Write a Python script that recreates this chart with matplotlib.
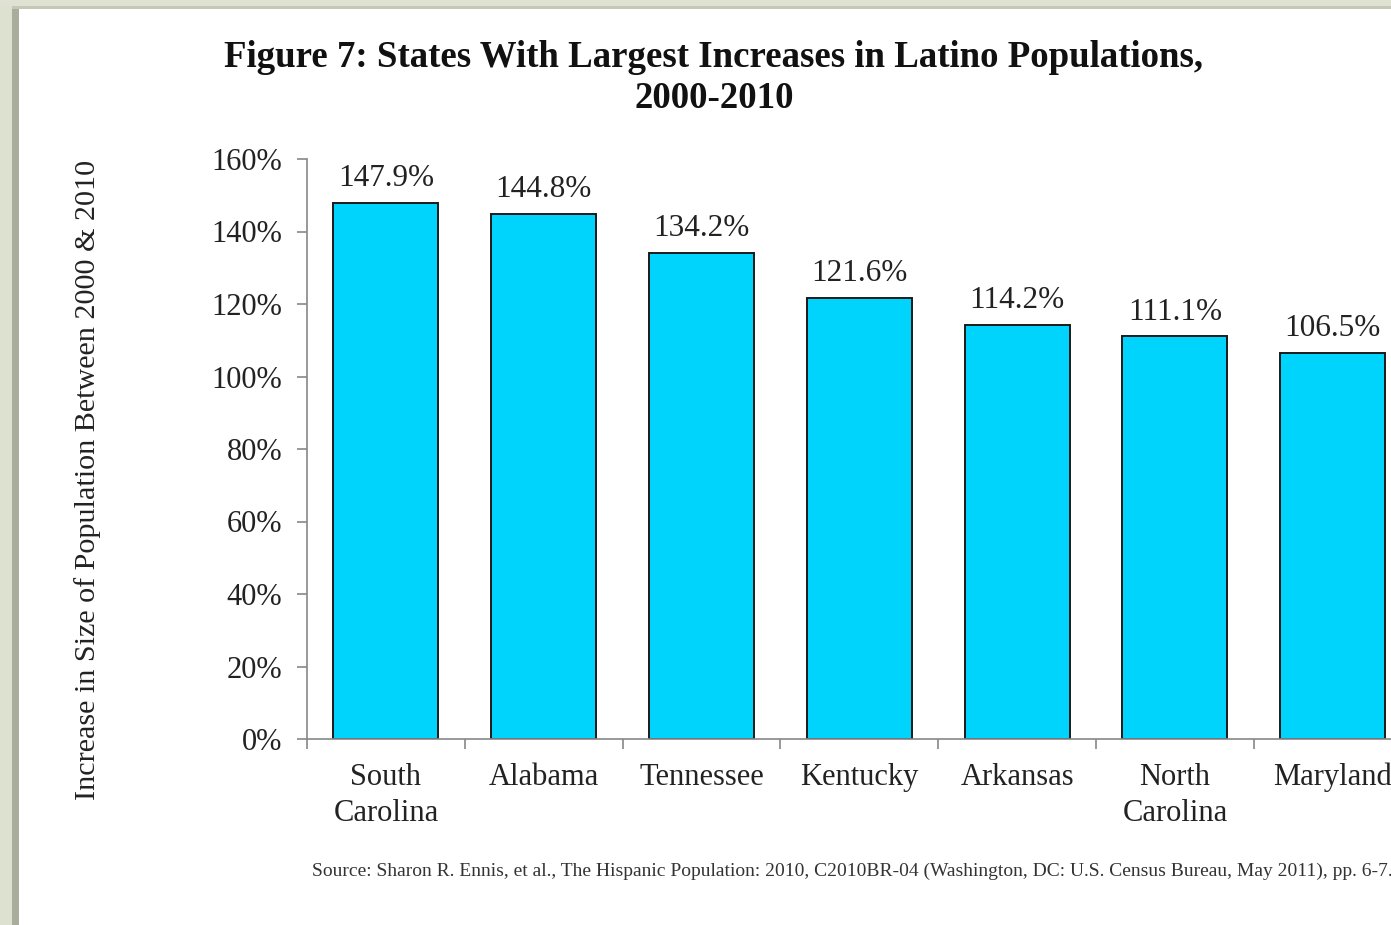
import matplotlib
matplotlib.use('Agg')
import matplotlib.pyplot as plt
from matplotlib.patches import Rectangle

states = ['South\nCarolina', 'Alabama', 'Tennessee', 'Kentucky', 'Arkansas',
          'North\nCarolina', 'Maryland']
increase = [147.9, 144.8, 134.2, 121.6, 114.2, 111.1, 106.5]
yticks = [0, 20, 40, 60, 80, 100, 120, 140, 160]

plt.rcParams['font.family'] = ['Liberation Serif', 'DejaVu Serif']

W, H = 1391, 925
fig = plt.figure(figsize=(W / 100, H / 100), dpi=100)
fig.patch.set_facecolor('white')

# slide frame along the left and top edges
frame = [(0, 0, 12, H, '#dde1cf'), (12, 0, 7, H, '#a9ad9b'),
         (0, H - 6, W, 6, '#dfe2d3'), (12, H - 9, W, 3, '#c4c8b6')]
for x0, y0, w, h, c in frame:
    fig.patches.append(Rectangle((x0 / W, y0 / H), w / W, h / H, transform=fig.transFigure,
                                 facecolor=c, edgecolor='none', zorder=0))

# category width is ~157.8 px; the last column runs past the right edge
ax = fig.add_axes([307 / W, (H - 739) / H, 7 * 157.8 / W, 580 / H])
x = list(range(len(states)))
ax.bar(x, increase, width=0.665, color='#00d4fc', edgecolor='#1a1a1a', linewidth=1.4, zorder=2)

for xi, v in zip(x, increase):
    ax.annotate(f'{v:.1f}%', (xi, v), xytext=(0, 7), textcoords='offset points',
                ha='center', va='bottom', fontsize=22.5, color='#222222')

ax.set_xlim(-0.5, len(states) - 0.5)
ax.set_ylim(0, 160)
ax.set_yticks(yticks)
ax.set_yticklabels([f'{t}%' for t in yticks], fontsize=22, color='#222222')

ax.set_xticks([i - 0.5 for i in range(len(states) + 1)])
ax.set_xticklabels([])
ax.set_xticks(x, minor=True)
ax.set_xticklabels(states, minor=True, fontsize=22, color='#222222', linespacing=1.35)
ax.tick_params(axis='x', which='minor', length=0, pad=17)
ax.tick_params(axis='x', which='major', length=7, color='#888888', width=1.2)
ax.tick_params(axis='y', length=7, color='#888888', width=1.2, pad=11)

for s in ['top', 'right']:
    ax.spines[s].set_visible(False)
for s in ['left', 'bottom']:
    ax.spines[s].set_color('#888888')
    ax.spines[s].set_linewidth(1.2)

fig.text(88 / W, 1 - 480 / H, 'Increase in Size of Population Between 2000 & 2010',
         rotation=90, ha='center', va='center', fontsize=21.7, color='#222222')

fig.text(714 / W, 1 - 78 / H,
         'Figure 7: States With Largest Increases in Latino Populations,\n2000-2010',
         ha='center', va='center', fontsize=26.6, fontweight='bold', color='#111111',
         linespacing=1.22)

fig.text(312 / W, 1 - 871 / H,
         'Source: Sharon R. Ennis, et al., The Hispanic Population: 2010, C2010BR-04 '
         '(Washington, DC: U.S. Census Bureau, May 2011), pp. 6-7.',
         ha='left', va='center', fontsize=14, color='#333333')

fig.savefig('out.png', dpi=100)
